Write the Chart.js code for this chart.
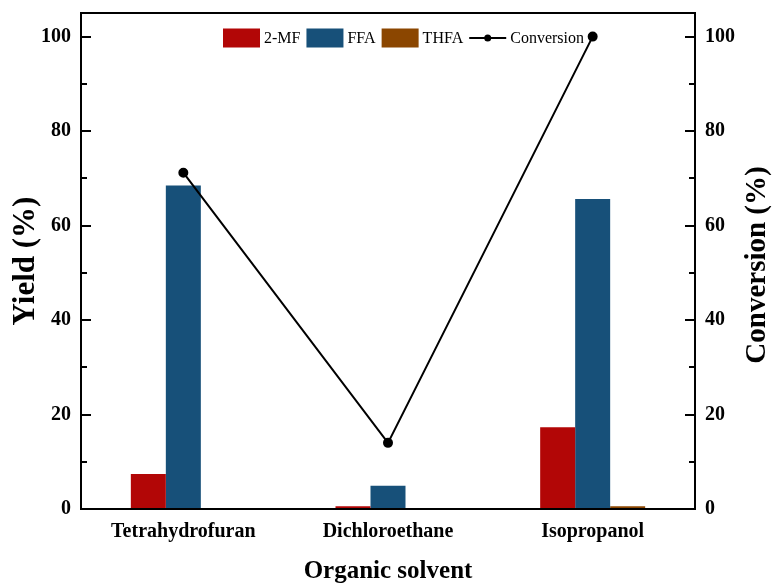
<!DOCTYPE html>
<html>
<head>
<meta charset="utf-8">
<script src="https://cdn.jsdelivr.net/npm/chart.js@4.4.1/dist/chart.umd.min.js"></script>
<style>
  html, body { margin: 0; padding: 0; background: #fff; }
  #wrap { width: 775px; height: 585px; }
</style>
</head>
<body>
<div id="wrap"><canvas id="c" width="775" height="585"></canvas></div>
<script>
// Solvent screening: product yields (bars, left axis) and conversion (line, right axis)
const solvents = ['Tetrahydrofuran', 'Dichloroethane', 'Isopropanol'];
const yield2MF = [7.4, 0.6, 17.3];
const yieldFFA = [68.5, 4.9, 65.6];
const yieldTHFA = [0, 0, 0.6];
const conversion = [71.2, 14.0, 100];
const yTicks = [0, 20, 40, 60, 80, 100];
const rightTitle = 'Conversion (%)';

const SERIF = '"Liberation Serif", "Times New Roman", serif';

// Inward major/minor ticks on both value axes, the closed frame,
// and the right-hand axis title reading bottom to top
const frameAndTicks = {
  id: 'frameAndTicks',
  afterDraw(chart) {
    const { ctx, chartArea: a } = chart;
    ctx.save();
    ctx.strokeStyle = '#000';
    ctx.lineWidth = 2;
    ctx.strokeRect(a.left, a.top, a.right - a.left, a.bottom - a.top);
    const ys = chart.scales.y;
    for (let v = 0; v <= 100; v += 10) {
      const py = Math.round(ys.getPixelForValue(v));
      const len = v % 20 === 0 ? 10 : 6;
      ctx.beginPath();
      ctx.moveTo(a.left, py); ctx.lineTo(a.left + len, py);
      ctx.moveTo(a.right, py); ctx.lineTo(a.right - len, py);
      ctx.stroke();
    }
    const ry = chart.scales.y1;
    ctx.translate(ry.right - 17, (a.top + a.bottom) / 2 + 4);
    ctx.rotate(-Math.PI / 2);
    ctx.font = 'bold 29px ' + SERIF;
    ctx.fillStyle = '#000';
    ctx.textAlign = 'center';
    ctx.textBaseline = 'middle';
    ctx.fillText(rightTitle, 0, 0);
    ctx.restore();
  }
};

// Legend row drawn inside the plot area, built from the datasets
const innerLegend = {
  id: 'innerLegend',
  afterDraw(chart) {
    const { ctx } = chart;
    const cy = 38, boxW = 37, boxH = 19;
    let x = 223;
    ctx.save();
    ctx.font = '16px ' + SERIF;
    ctx.textBaseline = 'middle';
    chart.data.datasets.forEach(ds => {
      if (ds.type === 'line') {
        ctx.strokeStyle = ds.borderColor;
        ctx.lineWidth = 2;
        ctx.beginPath();
        ctx.moveTo(x, cy); ctx.lineTo(x + boxW, cy);
        ctx.stroke();
        ctx.fillStyle = ds.pointBackgroundColor;
        ctx.beginPath();
        ctx.arc(x + boxW / 2, cy, 3.5, 0, Math.PI * 2);
        ctx.fill();
      } else {
        ctx.fillStyle = ds.backgroundColor;
        ctx.fillRect(x, cy - boxH / 2, boxW, boxH);
      }
      x += boxW + 4;
      ctx.fillStyle = '#000';
      ctx.fillText(ds.label, x, cy + 1);
      x += ctx.measureText(ds.label).width + 6;
    });
    ctx.restore();
  }
};

const tickFont = { family: SERIF, size: 20, weight: 'bold' };

// value axes keep no extra edge padding for their labels
function fixValueAxis(width) {
  return s => { s.width = width; s.paddingTop = 0; s.paddingBottom = 0; };
}

new Chart(document.getElementById('c'), {
  data: {
    labels: solvents,
    datasets: [
      { type: 'bar', label: '2-MF', data: yield2MF, yAxisID: 'y',
        backgroundColor: '#B20606', order: 1 },
      { type: 'bar', label: 'FFA', data: yieldFFA, yAxisID: 'y',
        backgroundColor: '#175079', order: 1 },
      { type: 'bar', label: 'THFA', data: yieldTHFA, yAxisID: 'y',
        backgroundColor: '#8B4600', order: 1 },
      { type: 'line', label: 'Conversion', data: conversion, yAxisID: 'y1',
        borderColor: '#000', borderWidth: 2, pointBackgroundColor: '#000',
        pointBorderColor: '#000', pointRadius: 4, pointHoverRadius: 4, order: 0 }
    ]
  },
  options: {
    responsive: false,
    animation: false,
    layout: { padding: { top: 13, left: 0, right: 0, bottom: 0 } },
    datasets: { bar: { categoryPercentage: 0.513, barPercentage: 1.0 } },
    plugins: { legend: { display: false }, tooltip: { enabled: false } },
    scales: {
      x: {
        offset: true,
        grid: { display: false, drawTicks: false },
        border: { display: false },
        ticks: { color: '#000', font: tickFont, padding: 11 },
        title: { display: true, text: 'Organic solvent', color: '#000',
                 font: { family: SERIF, size: 25, weight: 'bold', lineHeight: 1 },
                 padding: { top: 0, bottom: 1 } },
        afterFit(s) { s.height = 76; s.paddingLeft = 0; s.paddingRight = 0; }
      },
      y: {
        position: 'left', min: 0, max: 105,
        grid: { display: false, drawTicks: false },
        border: { display: false },
        afterBuildTicks(s) { s.ticks = yTicks.map(v => ({ value: v })); },
        ticks: { color: '#000', font: tickFont, padding: 10 },
        title: { display: true, text: 'Yield (%)', color: '#000',
                 font: { family: SERIF, size: 31, weight: 'bold', lineHeight: 1 },
                 padding: { top: 10, bottom: 0 } },
        afterFit: fixValueAxis(81)
      },
      y1: {
        position: 'right', min: 0, max: 105,
        grid: { display: false, drawTicks: false },
        border: { display: false },
        afterBuildTicks(s) { s.ticks = yTicks.map(v => ({ value: v })); },
        ticks: { color: '#000', font: tickFont, padding: 10 },
        afterFit: fixValueAxis(80)
      }
    }
  },
  plugins: [frameAndTicks, innerLegend]
});
</script>
</body>
</html>
